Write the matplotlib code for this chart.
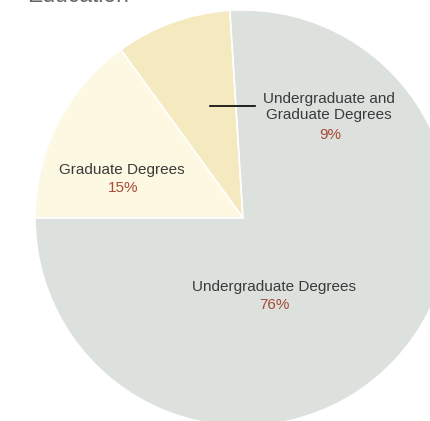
import matplotlib.pyplot as plt

# education split
labels = ['Undergraduate and\nGraduate Degrees', 'Graduate Degrees', 'Undergraduate Degrees']
shares = [9, 15, 76]
colors = ['#f5e9c0', '#fcf8e2', '#dce1dd']

plt.rcParams['font.family'] = ['Liberation Sans', 'DejaVu Sans']

W, H = 430, 421
fig = plt.figure(figsize=(W / 100, H / 100), dpi=100)
ax = fig.add_axes([0, 0, 1, 1])

cx, cy, r = 243, H - 218, 208
ax.pie(shares, colors=colors, startangle=93.6, counterclock=True,
       center=(cx, cy), radius=r,
       wedgeprops=dict(edgecolor='white', linewidth=1.2))
ax.set_xlim(0, W)
ax.set_ylim(0, H)
ax.set_aspect('equal')
ax.axis('off')

txt = '#3a3a3a'
pct = '#a84a35'
fs = 11

# heading sits mostly above the top edge
ax.text(27, H - 2.5, 'Education', fontsize=16.5, color='#666666', va='baseline', ha='left')

# leader line for the small slice
ax.plot([210, 255], [H - 106, H - 106], color='black', lw=1.2)

ax.text(329, H - 107, labels[0], fontsize=fs, color=txt, ha='center', va='center',
        linespacing=1.15)
ax.text(330, H - 135, f'{shares[0]}%', fontsize=fs, color=pct, ha='center', va='center')

ax.text(122, H - 170, labels[1], fontsize=fs, color=txt, ha='center', va='center')
ax.text(123, H - 188, f'{shares[1]}%', fontsize=fs, color=pct, ha='center', va='center')

ax.text(274, H - 287, labels[2], fontsize=fs, color=txt, ha='center', va='center')
ax.text(274, H - 305, f'{shares[2]}%', fontsize=fs, color=pct, ha='center', va='center')

fig.savefig('out.png', dpi=100)
